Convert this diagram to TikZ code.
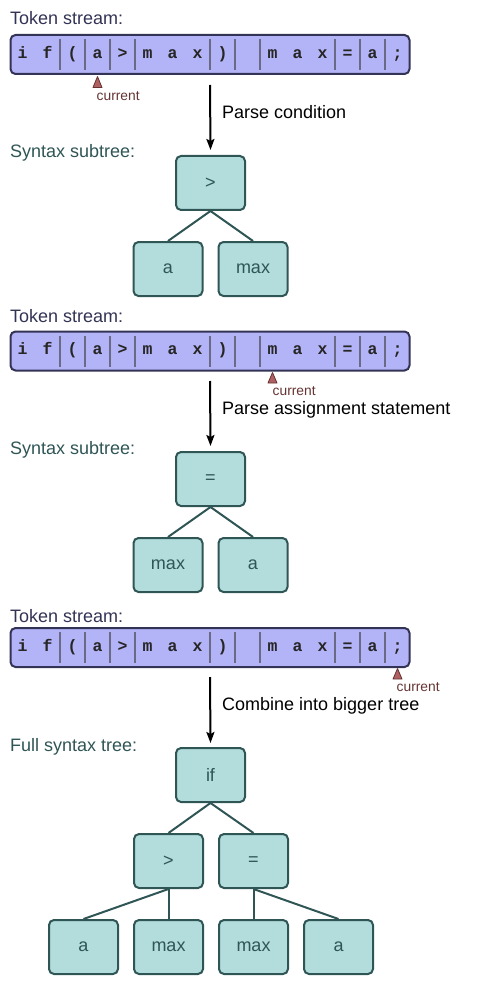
\documentclass[tikz,border=0pt]{standalone}
\usepackage{fontspec}
\setmainfont{Liberation Sans}
\newfontfamily\tokfont{Liberation Mono}
\usetikzlibrary{arrows.meta}
\definecolor{streamfill}{HTML}{B3B3F7}
\definecolor{streamdraw}{HTML}{333355}
\definecolor{sepcol}{HTML}{6A6A85}
\definecolor{treefill}{HTML}{B3DCDC}
\definecolor{treedraw}{HTML}{2F5555}
\definecolor{curfill}{HTML}{B06060}
\definecolor{curdraw}{HTML}{663333}
\tikzset{
  streambox/.style={draw=streamdraw, fill=streamfill, line width=2pt, rounded corners=5pt,
    minimum width=399pt, minimum height=39pt, inner sep=0pt},
  sepline/.style={draw=sepcol, line width=1.5pt},
  tok/.style={font=\tokfont\bfseries\fontsize{16.5}{19}\selectfont, inner sep=0pt, text=black!85},
  cursor/.style={fill=curfill, draw=curdraw, line width=0.8pt, line join=round},
  curlabel/.style={font=\fontsize{13.8}{16}\selectfont, text=curdraw, anchor=west, inner sep=0pt},
  streamlabel/.style={font=\fontsize{18}{21}\selectfont, text=streamdraw, anchor=base west, inner sep=0pt},
  treelabel/.style={font=\fontsize{18}{21}\selectfont, text=treedraw, anchor=base west, inner sep=0pt},
  steplabel/.style={font=\fontsize{18}{21}\selectfont, text=black, anchor=base west, inner sep=0pt},
  treebox/.style={draw=treedraw, fill=treefill, line width=2pt, rounded corners=5pt,
    minimum width=69pt, minimum height=54pt, inner sep=0pt, text=treedraw,
    font=\fontsize{18}{21}\selectfont},
  edge/.style={draw=treedraw, line width=2pt},
  arr/.style={draw=black, line width=2pt, -{Stealth[length=11pt,width=8pt,inset=2pt]}},
  tokstream/.pic={
    \node[streambox] (-box) at (200,0) {};
    \foreach \s in {50,75,100,125,200,225,250,325,350,375}
      \draw[sepline] (\s,-15.5) -- (\s,15.5);
    \foreach \i/\c in {0/i,1/f,2/{(},3/a,4/>,5/m,6/a,7/x,8/{)},10/m,11/a,12/x,13/=,14/a,15/;}
      \node[tok] (-t\i) at ({12.5+25*\i},0) {\strut\c};
  }
}
\begin{document}
\begin{tikzpicture}[x=1pt,y=-1pt]
\useasboundingbox (0,0) rectangle (491,984);

% ---------- stage 1 ----------
\node[streamlabel] (l1) at (10,24.3) {Token stream:};
\pic (s1) at (10,54.5) {tokstream};
\draw[cursor] (97.5,76.5) -- (102,87.5) -- (93,87.5) -- cycle;
\node[curlabel] (c1) at (96.5,96.5) {current};
\coordinate (a1s) at (210,85);
\node[steplabel] (p1) at (222,119) {Parse condition};
\node[treelabel] (t1) at (10,158) {Syntax subtree:};
\node[treebox] (r1) at (210.5,183) {>};
\node[treebox] (r1a) at (168,269) {a};
\node[treebox] (r1b) at (253,269) {max};
\draw[arr] (a1s) -- ([yshift=5pt]r1.north);
\draw[edge] (r1.south) -- (r1a.north);
\draw[edge] (r1.south) -- (r1b.north);

% ---------- stage 2 ----------
\node[streamlabel] (l2) at (10,322.5) {Token stream:};
\pic (s2) at (10,351) {tokstream};
\draw[cursor] (272.5,372.5) -- (277,383) -- (268,383) -- cycle;
\node[curlabel] (c2) at (272.5,391.5) {current};
\coordinate (a2s) at (210,381);
\node[steplabel] (p2) at (222,414) {Parse assignment statement};
\node[treelabel] (t2) at (10,454) {Syntax subtree:};
\node[treebox] (r2) at (210.5,479) {=};
\node[treebox] (r2a) at (168,565) {max};
\node[treebox] (r2b) at (253,565) {a};
\draw[arr] (a2s) -- ([yshift=5pt]r2.north);
\draw[edge] (r2.south) -- (r2a.north);
\draw[edge] (r2.south) -- (r2b.north);

% ---------- stage 3 ----------
\node[streamlabel] (l3) at (10,622.5) {Token stream:};
\pic (s3) at (10,647.5) {tokstream};
\draw[cursor] (397.5,668.5) -- (402,679) -- (393,679) -- cycle;
\node[curlabel] (c3) at (396.5,687.5) {current};
\coordinate (a3s) at (210,677);
\node[steplabel] (p3) at (222,710) {Combine into bigger tree};
\node[treelabel] (t3) at (10,751) {Full syntax tree:};
\node[treebox] (r3) at (210.5,775) {if};
\node[treebox] (r3a) at (168.5,861) {>};
\node[treebox] (r3b) at (253.5,861) {=};
\node[treebox] (r3aa) at (83.5,947) {a};
\node[treebox] (r3ab) at (168.5,947) {max};
\node[treebox] (r3ba) at (253.5,947) {max};
\node[treebox] (r3bb) at (338.5,947) {a};
\draw[arr] (a3s) -- ([yshift=4pt]r3.north);
\draw[edge] (r3.south) -- (r3a.north);
\draw[edge] (r3.south) -- (r3b.north);
\draw[edge] (r3a.south) -- (r3aa.north);
\draw[edge] (r3a.south) -- (r3ab.north);
\draw[edge] (r3b.south) -- (r3ba.north);
\draw[edge] (r3b.south) -- (r3bb.north);
\end{tikzpicture}
\end{document}
